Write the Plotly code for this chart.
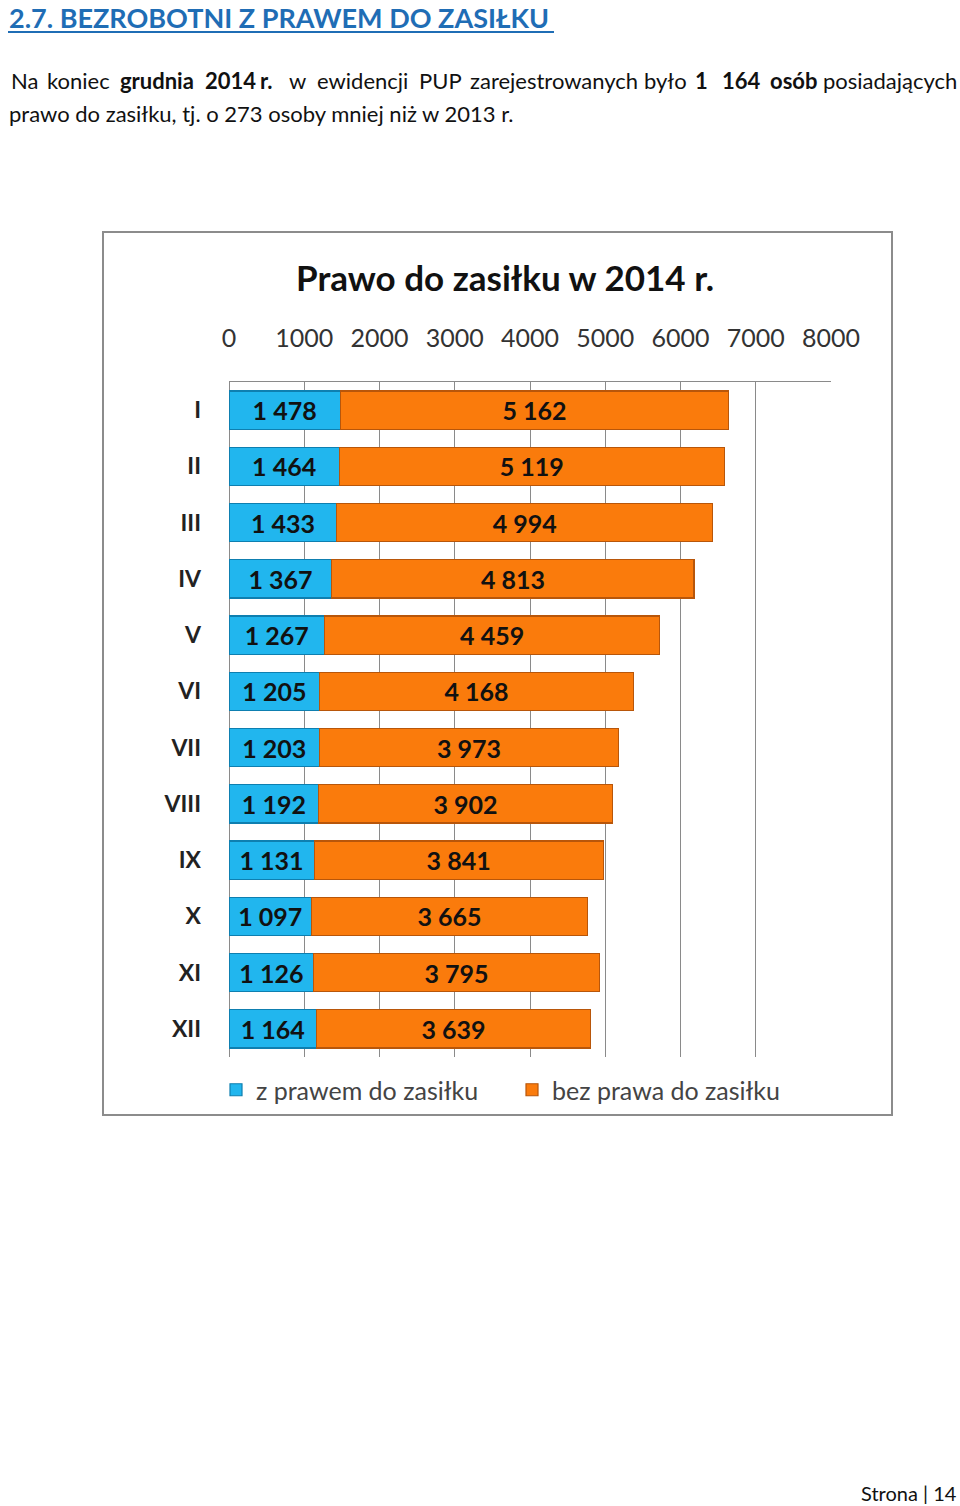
import plotly.graph_objects as go

W, H = 960, 1506

months = ["I", "II", "III", "IV", "V", "VI", "VII", "VIII", "IX", "X", "XI", "XII"]
z_prawem = [1478, 1464, 1433, 1367, 1267, 1205, 1203, 1192, 1131, 1097, 1126, 1164]
bez_prawa = [5162, 5119, 4994, 4813, 4459, 4168, 3973, 3902, 3841, 3665, 3795, 3639]
x_ticks = [0, 1000, 2000, 3000, 4000, 5000, 6000, 7000, 8000]

title_text = "Prawo do zasiłku w 2014 r."
series_names = ["z prawem do zasiłku", "bez prawa do zasiłku"]

FONT = "Lato"


def fmt(v):
    return f"{v:,}".replace(",", " ")


def px(x):
    return x / W


def py(y):
    return 1 - y / H


fig = go.Figure()
fig.add_trace(go.Bar(
    y=months, x=z_prawem, orientation="h", name=series_names[0],
    marker=dict(color="#21B6EE", line=dict(color="#0E7FB0", width=1.2)),
    text=[fmt(v) for v in z_prawem], textposition="inside",
    insidetextanchor="middle",
    textfont=dict(family=FONT, size=25, color="#111111", weight="bold"),
    hoverinfo="skip",
))
fig.add_trace(go.Bar(
    y=months, x=bez_prawa, orientation="h", name=series_names[1],
    marker=dict(color="#FA7B0C", line=dict(color="#B8560A", width=1.2)),
    text=[fmt(v) for v in bez_prawa], textposition="inside",
    insidetextanchor="middle",
    textfont=dict(family=FONT, size=25, color="#111111", weight="bold"),
    hoverinfo="skip",
))

fig.update_layout(
    width=W, height=H, autosize=False,
    margin=dict(l=0, r=0, t=0, b=0, pad=0, autoexpand=False),
    paper_bgcolor="white", plot_bgcolor="white",
    barmode="stack", bargap=0.32,
    font=dict(family=FONT, color="#222222"),
    uniformtext=dict(minsize=10, mode="show"),
    xaxis=dict(
        domain=[px(229), px(831)], range=[0, 8000], side="top",
        tickvals=x_ticks, ticktext=[str(t) for t in x_ticks],
        tickfont=dict(family=FONT, size=25, color="#333333"),
        showgrid=True, gridcolor="#8a8a8a", gridwidth=1,
        zeroline=True, zerolinecolor="#8a8a8a", zerolinewidth=1,
        showline=True, linecolor="#8a8a8a", linewidth=1,
        ticks="", ticklabelstandoff=24, fixedrange=True, automargin=False,
    ),
    yaxis=dict(
        domain=[py(1057), py(382)], autorange="reversed",
        tickfont=dict(family=FONT, size=23, color="#222222", weight="bold"),
        ticks="", ticklabelstandoff=27, showgrid=False, zeroline=False,
        showline=False, fixedrange=True, automargin=False,
    ),
    showlegend=True,
    legend=dict(
        orientation="h", x=px(216), y=py(1090), xanchor="left", yanchor="middle",
        traceorder="normal",
        font=dict(family=FONT, size=25, color="#444444"),
        entrywidth=251, entrywidthmode="pixels", bgcolor="rgba(0,0,0,0)",
        itemclick=False, itemdoubleclick=False,
    ),
)

# chart border
fig.add_shape(type="rect", xref="paper", yref="paper",
              x0=px(103), x1=px(892), y0=py(1115), y1=py(232),
              line=dict(color="#8c8c8c", width=2), layer="below")

# chart title
fig.add_annotation(text="<b>" + title_text + "</b>", xref="paper", yref="paper",
                   x=px(505), y=py(277), xanchor="center", yanchor="middle",
                   showarrow=False, font=dict(family=FONT, size=35, color="#111111"))

# page header
fig.add_annotation(text="<b>2.7. BEZROBOTNI Z PRAWEM DO ZASIŁKU</b>", xref="paper", yref="paper",
                   x=px(7), y=py(18), xanchor="left", yanchor="middle",
                   showarrow=False, font=dict(family=FONT, size=27, color="#1F6DB5"))
fig.add_shape(type="line", xref="paper", yref="paper",
              x0=px(8), x1=px(554), y0=py(32), y1=py(32),
              line=dict(color="#1F6DB5", width=2))

# justified first body line (word starts)
line1 = [("Na", 9, False), ("koniec", 45, False), ("grudnia", 118, True), ("2014", 203, True),
         ("r.", 258, True), ("w", 287, False), ("ewidencji", 315, False), ("PUP", 417, False),
         ("zarejestrowanych", 468, False), ("było", 642, False), ("1", 693, True),
         ("164", 720, True), ("osób", 768, True)]
for word, x0, bold in line1:
    fig.add_annotation(text=f"<b>{word}</b>" if bold else word, xref="paper", yref="paper",
                       x=px(x0), y=py(81), xanchor="left", yanchor="middle",
                       showarrow=False, font=dict(family=FONT, size=22, color="#111111"))
fig.add_annotation(text="posiadających", xref="paper", yref="paper",
                   x=px(959), y=py(81), xanchor="right", yanchor="middle",
                   showarrow=False, font=dict(family=FONT, size=22, color="#111111"))
fig.add_annotation(text="prawo do zasiłku, tj. o 273 osoby mniej niż w 2013 r.", xref="paper", yref="paper",
                   x=px(7), y=py(113), xanchor="left", yanchor="middle",
                   showarrow=False, font=dict(family=FONT, size=22, color="#111111"))

# footer
fig.add_annotation(text="Strona | 14", xref="paper", yref="paper",
                   x=px(959), y=py(1493), xanchor="right", yanchor="middle",
                   showarrow=False, font=dict(family=FONT, size=20, color="#111111"))

fig.write_html(
    "out.html",
    config={"responsive": False, "displayModeBar": False},
    post_script="document.body.style.margin='0';document.body.style.padding='0';"
                "document.body.style.overflow='hidden';"
                "document.documentElement.style.overflow='hidden';",
)
